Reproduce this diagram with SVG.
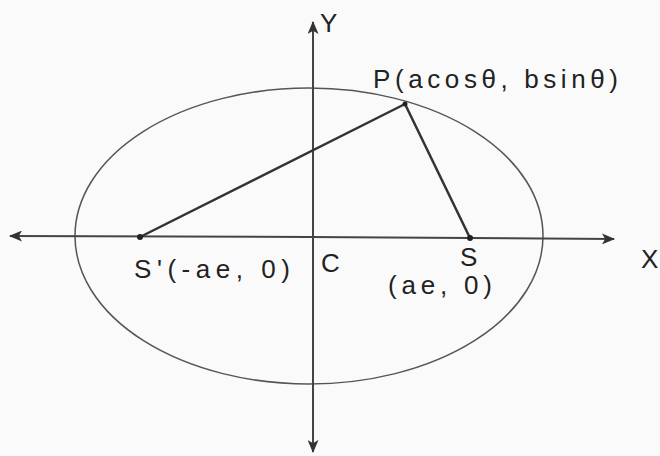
<svg xmlns="http://www.w3.org/2000/svg" width="660" height="456" viewBox="0 0 660 456">
<style>
.lbl{font-family:"Liberation Sans","DejaVu Sans",sans-serif;font-size:26px;fill:#222}
.ax{stroke:#444;stroke-width:2;fill:none}
.seg{stroke:#333;stroke-width:2.5;fill:none}
.ell{stroke:#555;stroke-width:1.5;fill:none}
</style>
<defs>
<marker id="ah" viewBox="0 0 12 10" refX="11" refY="5" markerWidth="14" markerHeight="11" markerUnits="userSpaceOnUse" orient="auto">
<path d="M0,0 L12,5 L0,10 L3,5 Z" fill="#333"/>
</marker>
</defs>
<rect width="660" height="456" fill="#fafafa"/>
<g id="ellipse"><ellipse class="ell" cx="309" cy="236" rx="234" ry="148"/></g>
<g id="connectors">
<line class="ax" x1="308" y1="237" x2="614" y2="239" marker-end="url(#ah)"/>
<line class="ax" x1="308" y1="237" x2="10" y2="236" marker-end="url(#ah)"/>
<line class="ax" x1="313" y1="237" x2="313" y2="22" marker-end="url(#ah)"/>
<line class="ax" x1="313" y1="237" x2="313" y2="452" marker-end="url(#ah)"/>
<line class="seg" x1="140" y1="237" x2="405" y2="104"/>
<line class="seg" x1="405" y1="104" x2="470" y2="238"/>
</g>
<g id="P"><circle cx="405" cy="104" r="2.5" fill="#222"/><text class="lbl" x="373" y="88" textLength="245" lengthAdjust="spacing">P(acosθ, bsinθ)</text></g>
<g id="S1"><circle cx="140" cy="237" r="3" fill="#222"/><text class="lbl" x="134" y="278" textLength="156" lengthAdjust="spacing">S'(-ae, 0)</text></g>
<g id="C"><text class="lbl" x="321" y="272">C</text></g>
<g id="S"><circle cx="470" cy="238" r="3" fill="#222"/><text class="lbl" x="460" y="266">S</text><text class="lbl" x="388" y="294" textLength="104" lengthAdjust="spacing">(ae, 0)</text></g>
<g id="Xlbl"><text class="lbl" x="641" y="268">X</text></g>
<g id="Ylbl"><text class="lbl" x="320" y="32">Y</text></g>
</svg>
